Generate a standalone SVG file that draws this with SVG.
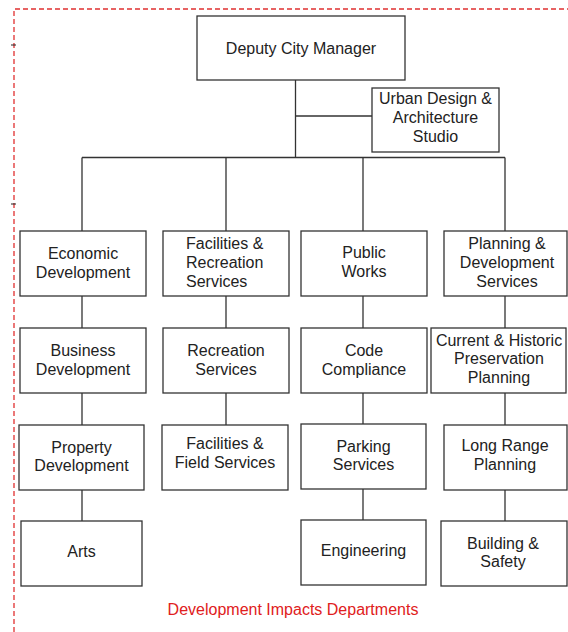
<svg xmlns="http://www.w3.org/2000/svg" width="568" height="632" viewBox="0 0 568 632">
  <style>
    .box { fill: #ffffff; stroke: #333333; stroke-width: 1.3; }
    .lbl { font-family: "Liberation Sans", Arial, sans-serif; font-size: 16px; fill: #222222; text-anchor: middle; }
    .lbl-l { font-family: "Liberation Sans", Arial, sans-serif; font-size: 16px; fill: #222222; text-anchor: start; }
    .wire { stroke: #333333; stroke-width: 1.3; fill: none; }
    .frame { stroke: #e03030; stroke-width: 1.3; stroke-dasharray: 5 3; fill: none; }
    .note { font-family: "Liberation Sans", Arial, sans-serif; font-size: 16px; fill: #e02020; text-anchor: middle; }
  </style>
  <rect width="568" height="632" fill="#ffffff"/>

  <!-- dashed frame around the development departments -->
  <g id="frame">
    <path class="frame" d="M14,640 V9 H570"/>
    <path d="M11,45 H16 M11,204 H16" stroke="#222" stroke-width="1"/>
  </g>

  <!-- connectors -->
  <g id="connectors" class="wire">
    <path d="M295.5,80 V158"/>
    <path d="M295.5,116 H372"/>
    <path d="M82,157.5 H505"/>
    <path d="M82,157.5 V231 M226,157.5 V231 M363,157.5 V231 M505,157.5 V231"/>
    <path d="M82,296 V328 M82,393 V425 M82,490 V521"/>
    <path d="M226,296 V328 M226,393 V425"/>
    <path d="M363,296 V328 M363,393 V424 M363,489 V520"/>
    <path d="M505,296 V328 M505,393 V425 M505,490 V521"/>
  </g>

  <g id="deputy-city-manager">
    <rect class="box" x="197" y="16" width="208" height="64"/>
    <text class="lbl" x="301" y="54">Deputy City Manager</text>
  </g>

  <g id="urban-design">
    <rect class="box" x="372" y="88" width="127" height="64"/>
    <text class="lbl" x="435.5" y="104">Urban Design &amp;</text>
    <text class="lbl" x="435.5" y="123">Architecture</text>
    <text class="lbl" x="435.5" y="142">Studio</text>
  </g>

  <!-- row 1 -->
  <g id="economic-development">
    <rect class="box" x="20" y="231" width="126" height="65"/>
    <text class="lbl" x="83" y="259">Economic</text>
    <text class="lbl" x="83" y="278">Development</text>
  </g>
  <g id="facilities-recreation">
    <rect class="box" x="163" y="231" width="126" height="65"/>
    <text class="lbl-l" x="186" y="249">Facilities &amp;</text>
    <text class="lbl-l" x="186" y="268">Recreation</text>
    <text class="lbl-l" x="186" y="287">Services</text>
  </g>
  <g id="public-works">
    <rect class="box" x="301" y="231" width="126" height="65"/>
    <text class="lbl" x="364" y="258">Public</text>
    <text class="lbl" x="364" y="277">Works</text>
  </g>
  <g id="planning-development">
    <rect class="box" x="444" y="231" width="123" height="65"/>
    <text class="lbl" x="507" y="249">Planning &amp;</text>
    <text class="lbl" x="507" y="268">Development</text>
    <text class="lbl" x="507" y="287">Services</text>
  </g>

  <!-- row 2 -->
  <g id="business-development">
    <rect class="box" x="20" y="328" width="126" height="65"/>
    <text class="lbl" x="83" y="356">Business</text>
    <text class="lbl" x="83" y="375">Development</text>
  </g>
  <g id="recreation-services">
    <rect class="box" x="163" y="328" width="126" height="65"/>
    <text class="lbl" x="226" y="356">Recreation</text>
    <text class="lbl" x="226" y="375">Services</text>
  </g>
  <g id="code-compliance">
    <rect class="box" x="301" y="328" width="126" height="65"/>
    <text class="lbl" x="364" y="356">Code</text>
    <text class="lbl" x="364" y="375">Compliance</text>
  </g>
  <g id="current-historic">
    <rect class="box" x="431" y="328" width="135" height="65"/>
    <text class="lbl" x="499" y="346">Current &amp; Historic</text>
    <text class="lbl" x="499" y="364">Preservation</text>
    <text class="lbl" x="499" y="383">Planning</text>
  </g>

  <!-- row 3 -->
  <g id="property-development">
    <rect class="box" x="19" y="425" width="125" height="65"/>
    <text class="lbl" x="81.5" y="453">Property</text>
    <text class="lbl" x="81.5" y="471">Development</text>
  </g>
  <g id="facilities-field">
    <rect class="box" x="162" y="425" width="126" height="65"/>
    <text class="lbl" x="225" y="449">Facilities &amp;</text>
    <text class="lbl" x="225" y="468">Field Services</text>
  </g>
  <g id="parking-services">
    <rect class="box" x="301" y="424" width="125" height="65"/>
    <text class="lbl" x="363.5" y="452">Parking</text>
    <text class="lbl" x="363.5" y="470">Services</text>
  </g>
  <g id="long-range">
    <rect class="box" x="444" y="425" width="123" height="65"/>
    <text class="lbl" x="505" y="451">Long Range</text>
    <text class="lbl" x="505" y="470">Planning</text>
  </g>

  <!-- row 4 -->
  <g id="arts">
    <rect class="box" x="21" y="521" width="121" height="65"/>
    <text class="lbl" x="81.5" y="557">Arts</text>
  </g>
  <g id="engineering">
    <rect class="box" x="301" y="520" width="125" height="65"/>
    <text class="lbl" x="363.5" y="556">Engineering</text>
  </g>
  <g id="building-safety">
    <rect class="box" x="441" y="521" width="126" height="65"/>
    <text class="lbl" x="503" y="549">Building &amp;</text>
    <text class="lbl" x="503" y="567">Safety</text>
  </g>

  <text class="note" x="293" y="615">Development Impacts Departments</text>
</svg>
